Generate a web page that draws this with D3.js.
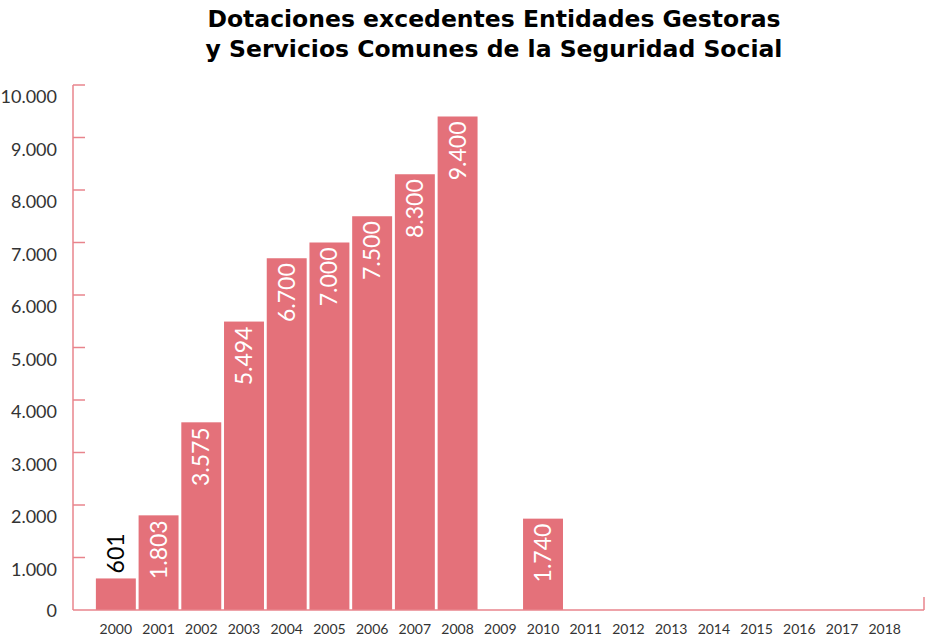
<!DOCTYPE html>
<html>
<head>
<meta charset="utf-8">
<script src="https://cdn.jsdelivr.net/npm/d3@7"></script>
<style>
  body { margin: 0; background: #fff; }
  svg { display: block; }
</style>
</head>
<body>
<div id="chart"></div>
<script>
// Datos
const years = ["2000","2001","2002","2003","2004","2005","2006","2007","2008","2009",
               "2010","2011","2012","2013","2014","2015","2016","2017","2018"];
const values = [601, 1803, 3575, 5494, 6700, 7000, 7500, 8300, 9400, 0,
                1740, 0, 0, 0, 0, 0, 0, 0, 0];
const labels = ["601","1.803","3.575","5.494","6.700","7.000","7.500","8.300","9.400","",
                "1.740","","","","","","","",""];
const yTicks = [0, 1000, 2000, 3000, 4000, 5000, 6000, 7000, 8000, 9000, 10000];
const titleLines = ["Dotaciones excedentes Entidades Gestoras",
                    "y Servicios Comunes de la Seguridad Social"];

const width = 926, height = 638;
const axisX = 73, baseY = 610, topY = 85, rightX = 924;
const barColor = "#e4717a";
const axisColor = "#e8848c";
const fmt = d => d3.format(",")(d).replace(/,/g, ".");

const svg = d3.select("#chart").append("svg")
    .attr("width", width)
    .attr("height", height);

// Titulo
svg.append("text")
    .attr("x", 494).attr("y", 27)
    .attr("text-anchor", "middle")
    .style("font-family", "'DejaVu Sans', sans-serif")
    .style("font-weight", "bold")
    .style("font-size", "23.5px")
    .style("fill", "#000")
    .selectAll("tspan")
    .data(titleLines)
    .enter().append("tspan")
    .attr("x", 494)
    .attr("dy", (d, i) => i === 0 ? 0 : 30)
    .text(d => d);

// Escalas
const x = d3.scaleBand()
    .domain(years)
    .range([94.6, 906])
    .paddingInner(0.065)
    .paddingOuter(0.03);

const y = d3.scaleLinear()
    .domain([0, 10000])
    .range([baseY, topY]);

const barData = values
    .map((v, i) => ({ year: years[i], value: v, label: labels[i] }))
    .filter(d => d.value > 0);

// Barras
svg.selectAll(".bar")
    .data(barData)
    .enter().append("rect")
    .attr("class", "bar")
    .attr("x", d => x(d.year))
    .attr("y", d => y(d.value))
    .attr("width", x.bandwidth())
    .attr("height", d => baseY - y(d.value))
    .attr("fill", barColor);

// Etiquetas de valor (giradas)
svg.selectAll(".val")
    .data(barData)
    .enter().append("text")
    .attr("class", "val")
    .attr("transform", d => {
        const cx = x(d.year) + x.bandwidth() / 2 + 8;
        const small = d.value < 1000;
        const ty = small ? y(d.value) - 5 : y(d.value) + 5;
        return `translate(${cx},${ty}) rotate(-90)`;
    })
    .attr("text-anchor", d => d.value < 1000 ? "start" : "end")
    .style("font-family", "Lato, sans-serif")
    .style("font-size", "23px")
    .style("fill", d => d.value < 1000 ? "#000" : "#fff")
    .text(d => d.label);

// Eje Y
svg.append("line")
    .attr("x1", axisX).attr("x2", axisX)
    .attr("y1", topY).attr("y2", baseY)
    .attr("stroke", axisColor).attr("stroke-width", 1.5);

svg.selectAll(".ytick")
    .data(yTicks.filter(d => d > 0))
    .enter().append("line")
    .attr("x1", axisX).attr("x2", axisX + 12)
    .attr("y1", d => y(d)).attr("y2", d => y(d))
    .attr("stroke", axisColor).attr("stroke-width", 1.5);

// las etiquetas quedan un poco por debajo de cada marca
svg.selectAll(".ylab")
    .data(yTicks)
    .enter().append("text")
    .attr("x", 57)
    .attr("y", d => d === 0 ? y(d) + 7 : y(d) + 18)
    .attr("text-anchor", "end")
    .style("font-family", "Lato, sans-serif")
    .style("font-size", "18px")
    .style("fill", "#333")
    .text(d => fmt(d));

// Eje X
svg.append("line")
    .attr("x1", axisX).attr("x2", rightX)
    .attr("y1", baseY).attr("y2", baseY)
    .attr("stroke", axisColor).attr("stroke-width", 1.5);
svg.append("line")
    .attr("x1", rightX).attr("x2", rightX)
    .attr("y1", baseY).attr("y2", baseY - 13)
    .attr("stroke", axisColor).attr("stroke-width", 1.5);

svg.selectAll(".xlab")
    .data(years)
    .enter().append("text")
    .attr("x", d => x(d) + x.bandwidth() / 2)
    .attr("y", 634)
    .attr("text-anchor", "middle")
    .style("font-family", "Lato, sans-serif")
    .style("font-size", "14px")
    .style("fill", "#333")
    .text(d => d);
</script>
</body>
</html>
